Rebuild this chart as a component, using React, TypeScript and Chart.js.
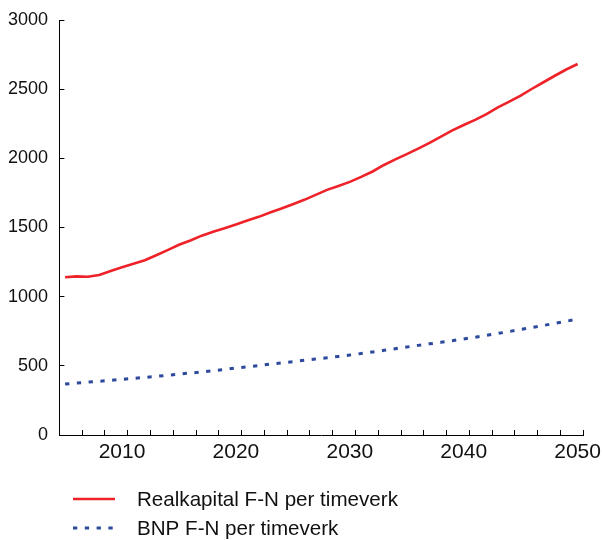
import React, { useEffect, useRef } from "react";
import { Chart, registerables } from "chart.js";

Chart.register(...registerables);

const years: string[] = [
  "2005","2006","2007","2008","2009","2010","2011","2012","2013","2014",
  "2015","2016","2017","2018","2019","2020","2021","2022","2023","2024",
  "2025","2026","2027","2028","2029","2030","2031","2032","2033","2034",
  "2035","2036","2037","2038","2039","2040","2041","2042","2043","2044",
  "2045","2046","2047","2048","2049","2050",
];

const realkapital: number[] = [
  1140, 1147, 1144, 1157, 1186, 1212, 1238, 1263, 1299, 1336,
  1375, 1406, 1441, 1470, 1495, 1522, 1550, 1577, 1609, 1637,
  1668, 1700, 1736, 1772, 1800, 1830, 1866, 1905, 1952, 1993,
  2030, 2070, 2112, 2157, 2202, 2241, 2278, 2320, 2368, 2410,
  2454, 2503, 2550, 2597, 2642, 2682,
];

const bnp: number[] = [
  368, 376, 382, 388, 395, 402, 409, 416, 424, 432,
  440, 448, 456, 465, 474, 484, 493, 502, 512, 521,
  530, 540, 549, 558, 568, 578, 589, 600, 612, 624,
  636, 648, 659, 670, 682, 694, 707, 720, 734, 748,
  763, 777, 792, 807, 822, 838,
];

const seriesLabels: string[] = ["Realkapital F-N per timeverk", "BNP F-N per timeverk"];
const yTicks: number[] = [0, 500, 1000, 1500, 2000, 2500, 3000];

const FONT = "'Liberation Sans', Arial, sans-serif";
const RED = "#EE2229";
const BLUE = "#2D4A9C";

const stackedLegend = {
  id: "stackedLegend",
  afterDraw(chart: any) {
    const { ctx, chartArea } = chart;
    const xScale = chart.scales.x;
    const top = xScale.bottom;
    ctx.save();
    chart.data.datasets.forEach((ds: any, i: number) => {
      const y = top + 35.5 + i * 29;
      const x0 = chartArea.left + 13.6;
      const x1 = chartArea.left + 55.6;
      ctx.beginPath();
      ctx.strokeStyle = ds.borderColor;
      ctx.lineWidth = ds.borderWidth;
      ctx.setLineDash(ds.borderDash || []);
      ctx.lineDashOffset = 0;
      ctx.moveTo(x0, y);
      ctx.lineTo(x1, y);
      ctx.stroke();
      ctx.setLineDash([]);
      ctx.fillStyle = "#111";
      ctx.font = `20.6px ${FONT}`;
      ctx.textAlign = "left";
      ctx.textBaseline = "middle";
      ctx.fillText(ds.label, chartArea.left + 77.6, y + 1);
    });
    ctx.restore();
  },
};

export default function App() {
  const ref = useRef<HTMLCanvasElement | null>(null);

  useEffect(() => {
    if (!ref.current) return;
    const chart = new Chart(ref.current, {
      type: "line",
      data: {
        labels: years,
        datasets: [
          {
            label: seriesLabels[0],
            data: realkapital,
            borderColor: RED,
            backgroundColor: RED,
            borderWidth: 2.6,
            pointRadius: 0,
            tension: 0,
            fill: false,
          },
          {
            label: seriesLabels[1],
            data: bnp,
            borderColor: BLUE,
            backgroundColor: BLUE,
            borderWidth: 3,
            borderDash: [4.3, 7.5],
            borderCapStyle: "butt",
            pointRadius: 0,
            tension: 0,
            fill: false,
          },
        ],
      },
      options: {
        animation: false,
        responsive: false,
        maintainAspectRatio: false,
        layout: { padding: { left: 8, right: 18.7, top: 20, bottom: 76.5 } },
        plugins: {
          legend: { display: false },
          tooltip: { enabled: false },
        },
        scales: {
          x: {
            type: "category",
            offset: true,
            afterFit: (scale: any) => {
              scale.height = 28.5;
              scale.paddingLeft = 0;
              scale.paddingRight = 0;
            },
            grid: {
              display: true,
              offset: true,
              drawOnChartArea: false,
              drawTicks: true,
              tickLength: -5,
              tickWidth: 1,
              tickColor: (c: any) =>
                c.index === undefined || c.index % 2 === 0 ? "#000" : "rgba(0,0,0,0)",
            },
            border: { display: true, color: "#000", width: 1 },
            ticks: {
              autoSkip: false,
              maxRotation: 0,
              minRotation: 0,
              padding: 9.5,
              color: "#111",
              font: { family: FONT, size: 21 },
              callback: (_v: any, i: number) =>
                Number(years[i]) % 10 === 0 ? years[i] : "",
            },
          },
          y: {
            type: "linear",
            min: yTicks[0],
            max: yTicks[yTicks.length - 1],
            afterBuildTicks: (scale: any) => {
              scale.ticks = yTicks.map((v) => ({ value: v }));
            },
            afterFit: (scale: any) => {
              scale.width = 51.4;
              scale.paddingTop = 0;
              scale.paddingBottom = 0;
            },
            grid: {
              display: true,
              drawOnChartArea: false,
              drawTicks: true,
              tickLength: -5,
              tickWidth: 1,
              tickColor: "#000",
            },
            border: { display: true, color: "#000", width: 1 },
            ticks: {
              padding: 16.4,
              color: "#111",
              font: { family: FONT, size: 18 },
              callback: (v: any) => String(v),
            },
          },
        },
      },
      plugins: [stackedLegend],
    });
    return () => chart.destroy();
  }, []);

  return (
    <div style={{ position: "absolute", left: 0, top: 0, width: 602, height: 540 }}>
      <canvas ref={ref} width={602} height={540} style={{ display: "block", width: 602, height: 540 }} />
    </div>
  );
}
